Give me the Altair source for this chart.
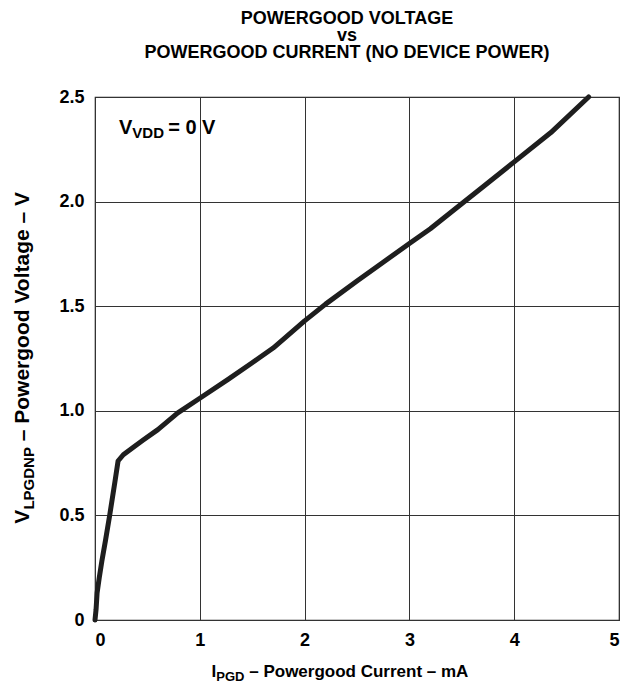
import altair as alt
import pandas as pd

# ---- data ----
current_ma = [0, 0.01, 0.02, 0.04, 0.065, 0.10, 0.14, 0.19, 0.22, 0.27, 0.35, 0.46,
              0.60, 0.79, 1.00, 1.27, 1.50, 1.70, 2.00, 2.20, 2.50, 2.75, 3.00,
              3.20, 3.40, 3.70, 4.00, 4.35, 4.71]
voltage_v = [0, 0.05, 0.13, 0.20, 0.28, 0.38, 0.50, 0.66, 0.76, 0.79, 0.82, 0.86,
             0.91, 0.99, 1.06, 1.15, 1.23, 1.30, 1.43, 1.51, 1.62, 1.71, 1.80,
             1.87, 1.95, 2.07, 2.19, 2.33, 2.50]
x_ticks = [0, 1, 2, 3, 4, 5]
y_ticks = [0, 0.5, 1.0, 1.5, 2.0, 2.5]

title_lines = ["POWERGOOD VOLTAGE", "vs", "POWERGOOD CURRENT (NO DEVICE POWER)"]

FONT = "Liberation Sans"
W, H = 524, 523

# Arial-bold-like advance widths (em) to chain subscript pieces
_w = {**{c: v for c, v in zip("ABCDEFGHIJKLMNOPQRSTUVWXYZ",
      [.722,.722,.722,.722,.667,.611,.778,.722,.278,.556,.722,.611,.833,.722,.778,.667,.778,.722,.667,.611,.722,.667,.944,.667,.667,.611])},
      **{c: v for c, v in zip("abcdefghijklmnopqrstuvwxyz",
      [.556,.611,.556,.611,.556,.333,.611,.611,.278,.278,.556,.278,.889,.611,.611,.611,.611,.389,.556,.333,.611,.556,.778,.556,.556,.5])},
      " ": .278, "=": .584, "–": .556, ".": .278, "(": .333, ")": .333}
for d in "0123456789":
    _w[d] = .556


def tw(s, size):
    return sum(_w.get(c, .6) for c in s) * size


def piece(text, x, y, size, angle=0, align="left"):
    return alt.Chart(pd.DataFrame({"t": [text]})).mark_text(
        font=FONT, fontWeight="bold", fontSize=size, color="black",
        align=align, baseline="alphabetic", angle=angle
    ).encode(text="t:N", x=alt.value(x), y=alt.value(y))


df = pd.DataFrame({"I": current_ma, "V": voltage_v})

line = alt.Chart(df).mark_line(color="#1e1e1e", strokeWidth=5, strokeJoin="round",
                               strokeCap="round").encode(
    x=alt.X("I:Q", scale=alt.Scale(domain=[0, 5], nice=False),
            axis=alt.Axis(values=x_ticks, title=None, format="d")),
    y=alt.Y("V:Q", scale=alt.Scale(domain=[0, 2.5], nice=False),
            axis=alt.Axis(values=y_ticks, title=None,
                          labelExpr="datum.value == 0 ? '0' : format(datum.value, '.1f')")),
    order=alt.Order("I:Q"),
)

layers = [line]

# title
tsize = 18
for txt, yy in zip(title_lines, [-73, -56, -39]):
    layers.append(piece(txt, 252, yy, tsize, align="center"))

# annotation V_VDD = 0 V
abig, asmall = 20, 15
ax0, ay0 = 24, 37
layers.append(piece("V", ax0, ay0, abig))
layers.append(piece("VDD", ax0 + tw("V", abig), ay0 + 4, asmall))
layers.append(piece("= 0 V", ax0 + tw("V", abig) + tw("VDD ", asmall), ay0, abig))

# x-axis title
xbig, xsmall = 17, 13
xt_I, xt_sub, xt_rest = "I", "PGD", "– Powergood Current – mA"
gap_x = tw(" ", xbig)
xtot = tw(xt_I, xbig) + tw(xt_sub, xsmall) + gap_x + tw(xt_rest, xbig)
xs = 245 - xtot / 2
xy = 580
layers.append(piece(xt_I, xs, xy, xbig))
layers.append(piece(xt_sub, xs + tw(xt_I, xbig), xy + 4, xsmall))
layers.append(piece(xt_rest, xs + tw(xt_I, xbig) + tw(xt_sub, xsmall) + gap_x, xy, xbig))

# y-axis title (rotated)
ybig, ysmall = 21, 15
yt_V, yt_sub, yt_rest = "V", "LPGDNP", "– Powergood Voltage – V"
gap_y = tw(" ", ybig)
ytot = tw(yt_V, ybig) + tw(yt_sub, ysmall) + gap_y + tw(yt_rest, ybig)
ys = 260 + ytot / 2
yx = -66
layers.append(piece(yt_V, yx, ys, ybig, angle=270))
layers.append(piece(yt_sub, yx + 5, ys - tw(yt_V, ybig), ysmall, angle=270))
layers.append(piece(yt_rest, yx, ys - tw(yt_V, ybig) - tw(yt_sub, ysmall) - gap_y, ybig, angle=270))

chart = alt.layer(*layers).properties(
    width=W, height=H,
    autosize=alt.AutoSizeParams(type="none"),
    padding={"left": 87, "top": 89, "right": 7, "bottom": 68},
).configure_view(
    stroke="#222222", strokeWidth=1.2
).configure_axis(
    grid=True, gridColor="#333333", gridWidth=1, gridOpacity=1,
    domain=False, ticks=False,
    labelFont=FONT, labelFontWeight="bold", labelFontSize=18, labelColor="black",
    labelPadding=11,
)

chart.save("out.html", embed_options={"renderer": "svg", "actions": False})
